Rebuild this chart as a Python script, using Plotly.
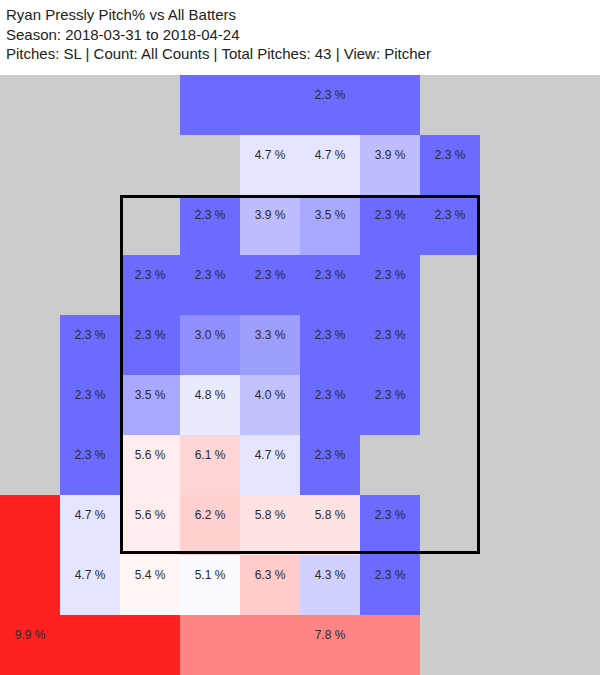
import plotly.graph_objects as go

# Pitch% per zone cell, top row first (None = no pitches, gray background)
row_0 = [None, None, None, 2.3, 2.3, 2.3, 2.3, None, None, None]
row_1 = [None, None, None, None, 4.7, 4.7, 3.9, 2.3, None, None]
row_2 = [None, None, None, 2.3, 3.9, 3.5, 2.3, 2.3, None, None]
row_3 = [None, None, 2.3, 2.3, 2.3, 2.3, 2.3, None, None, None]
row_4 = [None, 2.3, 2.3, 3.0, 3.3, 2.3, 2.3, None, None, None]
row_5 = [None, 2.3, 3.5, 4.8, 4.0, 2.3, 2.3, None, None, None]
row_6 = [None, 2.3, 5.6, 6.1, 4.7, 2.3, None, None, None, None]
row_7 = [9.9, 4.7, 5.6, 6.2, 5.8, 5.8, 2.3, None, None, None]
row_8 = [9.9, 4.7, 5.4, 5.1, 6.3, 4.3, 2.3, None, None, None]
row_9 = [9.9, 9.9, 9.9, 7.8, 7.8, 7.8, 7.8, None, None, None]
values = [row_0, row_1, row_2, row_3, row_4, row_5, row_6, row_7, row_8, row_9]

# Outer zones span several cells; their label is shown in one cell only
hidden_labels = [(0, 3), (0, 4), (0, 6),
                 (7, 0), (8, 0), (9, 1), (9, 2),
                 (9, 3), (9, 4), (9, 6)]

cols = list(range(10))
rows = list(range(10))

title_lines = [
    "Ryan Pressly Pitch% vs All Batters",
    "Season: 2018-03-31 to 2018-04-24",
    "Pitches: SL | Count: All Counts | Total Pitches: 43 | View: Pitcher",
]

# strike zone bounds in cell units
zone_left, zone_right = 1.525, 7.475
zone_top, zone_bottom = 1.525, 7.46

# labels sit slightly above the cell centre (fraction of a cell)
label_lift = 9.5 / 60

lx, ly, lt = [], [], []
for r, row in enumerate(values):
    for c, v in enumerate(row):
        if v is None or (r, c) in hidden_labels:
            continue
        lx.append(cols[c])
        ly.append(rows[r] - label_lift)
        lt.append(f"{v:.1f} %")

zmin, zmax, zmid = 2.3, 9.9, 5.2
mid = (zmid - zmin) / (zmax - zmin)
colorscale = [[0, "rgb(107,107,255)"], [mid, "rgb(255,255,255)"], [1, "rgb(255,32,32)"]]

fig = go.Figure()
fig.add_trace(go.Heatmap(
    z=values, x=cols, y=rows,
    colorscale=colorscale, zmin=zmin, zmax=zmax, showscale=False,
    hoverinfo="skip", xgap=0, ygap=0,
))
fig.add_trace(go.Scatter(
    x=lx, y=ly, text=lt, mode="text", textposition="middle center",
    textfont=dict(family="Liberation Sans, Arial", size=12, color="#2a2a2a"),
    hoverinfo="skip", showlegend=False,
))

fig.add_shape(type="rect", x0=zone_left, x1=zone_right, y0=zone_top, y1=zone_bottom,
              line=dict(color="black", width=3), fillcolor="rgba(0,0,0,0)")

fig.add_annotation(
    text="<br>".join(title_lines), xref="paper", yref="paper", x=0, y=1,
    xanchor="left", yanchor="bottom", align="left", xshift=4, yshift=11,
    showarrow=False,
    font=dict(family="Liberation Sans, Arial", size=15, color="#222222"),
)

fig.update_layout(
    width=600, height=675,
    margin=dict(l=0, r=0, t=75, b=0),
    paper_bgcolor="white", plot_bgcolor="#cccccc",
    xaxis=dict(range=[-0.5, 9.5], visible=False, fixedrange=True),
    yaxis=dict(range=[9.5, -0.5], visible=False, fixedrange=True),
    showlegend=False,
)

fig.write_html("out.html", config={"displayModeBar": False},
               post_script="document.body.style.margin='0';document.body.style.overflow='hidden';")
